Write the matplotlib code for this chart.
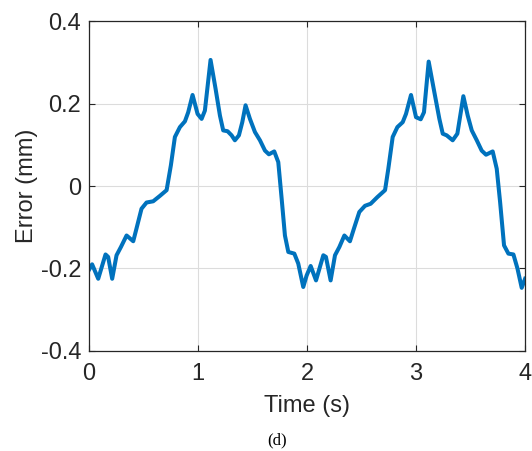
import numpy as np
import matplotlib.pyplot as plt

# error curve
t = [0.0, 0.03, 0.086, 0.153, 0.177, 0.214, 0.254, 0.294, 0.346, 0.407, 0.437,
     0.483, 0.529, 0.59, 0.651, 0.713, 0.752, 0.789, 0.835, 0.881, 0.911, 0.951,
     0.997, 1.034, 1.064, 1.116, 1.162, 1.202, 1.232, 1.272, 1.309, 1.339, 1.376,
     1.407, 1.437, 1.477, 1.523, 1.569, 1.615, 1.651, 1.7, 1.737, 1.768, 1.798,
     1.829, 1.884, 1.92, 1.966, 1.997, 2.034, 2.083, 2.15, 2.174, 2.217, 2.257,
     2.297, 2.343, 2.394, 2.431, 2.48, 2.532, 2.584, 2.645, 2.716, 2.746, 2.786,
     2.829, 2.878, 2.908, 2.954, 3.0, 3.043, 3.073, 3.116, 3.165, 3.214, 3.245,
     3.281, 3.336, 3.379, 3.434, 3.474, 3.511, 3.557, 3.602, 3.642, 3.703, 3.74,
     3.771, 3.807, 3.847, 3.893, 3.93, 3.969, 4.0]
err = [-0.204, -0.19, -0.225, -0.166, -0.172, -0.225, -0.168, -0.148, -0.12, -0.134, -0.103,
       -0.055, -0.04, -0.037, -0.024, -0.01, 0.05, 0.119, 0.143, 0.157, 0.179, 0.221,
       0.175, 0.163, 0.183, 0.306, 0.236, 0.171, 0.135, 0.133, 0.123, 0.111, 0.123,
       0.155, 0.196, 0.163, 0.131, 0.111, 0.086, 0.077, 0.084, 0.058, -0.031, -0.12,
       -0.16, -0.164, -0.188, -0.245, -0.217, -0.194, -0.229, -0.168, -0.172, -0.229, -0.168,
       -0.148, -0.12, -0.134, -0.103, -0.063, -0.048, -0.043, -0.027, -0.01, 0.042, 0.119,
       0.143, 0.155, 0.175, 0.221, 0.167, 0.162, 0.179, 0.302, 0.232, 0.163, 0.127,
       0.123, 0.111, 0.127, 0.218, 0.171, 0.135, 0.111, 0.086, 0.076, 0.084, 0.042,
       -0.039, -0.144, -0.164, -0.166, -0.2, -0.247, -0.225]

xticks = [0, 1, 2, 3, 4]
yticks = [-0.4, -0.2, 0, 0.2, 0.4]
ylabels = ['-0.4', '-0.2', '0', '0.2', '0.4']

plt.rcParams['font.family'] = 'Liberation Sans'
dark = '#262626'

fig = plt.figure(figsize=(5.32, 4.51), dpi=100)
ax = fig.add_axes([0.167, 0.222, 0.82, 0.731])

ax.plot(t, err, color='#0072BD', lw=2.9, solid_joinstyle='round')

ax.set_xlim(0, 4)
ax.set_ylim(-0.4, 0.4)
ax.set_xticks(xticks)
ax.set_xticklabels([str(x) for x in xticks])
ax.set_yticks(yticks)
ax.set_yticklabels(ylabels)
ax.grid(True, color='#dcdcdc', lw=0.8)
ax.set_axisbelow(True)
ax.tick_params(direction='in', length=4, width=0.8, colors=dark, labelsize=17,
               top=True, right=True, labeltop=False, labelright=False)
ax.tick_params(axis='x', pad=9)
ax.tick_params(axis='y', pad=5.5)
for s in ax.spines.values():
    s.set_color(dark)
    s.set_linewidth(0.9)

ax.set_xlabel('Time (s)', fontsize=17, color=dark, labelpad=7)
ax.set_ylabel('Error (mm)', fontsize=17, color=dark, labelpad=2)

fig.text(0.521, 0.006, '(d)', fontsize=12, family='Liberation Serif',
         ha='center', va='bottom', color='black')

fig.savefig('out.png', dpi=100)
